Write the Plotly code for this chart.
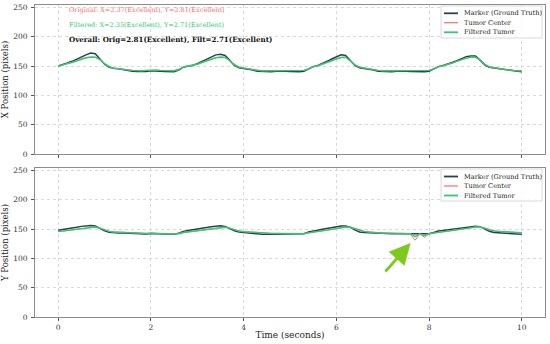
import plotly.graph_objects as go
from plotly.subplots import make_subplots

# ---------------- data ----------------
time_s = [round(i * 0.1, 1) for i in range(101)]

marker_x = [150, 152, 155, 158, 162, 166, 169, 172, 171, 162,
            153, 148, 146, 145.5, 144, 142, 141, 140.5, 140, 140.5,
            142, 142, 141, 140.5, 140, 140, 143, 148, 150, 151,
            154, 158, 162, 166, 169, 170, 168, 160, 151, 147,
            146, 145, 143, 141, 140.5, 140, 140, 141, 141.5, 141,
            140.5, 140, 140, 141, 145, 149, 151, 154, 158, 162,
            166, 169, 168, 159, 151, 147, 146, 145, 143, 141,
            140.5, 140, 140, 141, 141.5, 141, 140.5, 140, 140, 140,
            141, 145, 149, 151, 153, 156, 159, 163, 166, 167,
            167, 160, 152, 148, 147, 146, 145, 143, 142, 141,
            140]

filtered_x = [150, 151.5, 154, 156, 159, 162, 164, 165, 165, 161,
              154, 149, 146, 145.5, 145, 143.5, 142.5, 142, 142, 142.5,
              143, 143, 142.5, 142, 142, 142, 144, 148, 150, 151,
              153, 156, 159, 162, 164, 165, 164.5, 159, 152, 148,
              146.5, 145.5, 144, 142.5, 142, 142, 142, 142.5, 143, 142.5,
              142, 142, 142, 142.5, 145, 148.5, 150.5, 153, 156, 159,
              162, 164.5, 165, 159, 152, 148, 146.5, 145.5, 144, 142.5,
              142, 142, 142, 142.5, 143, 142.5, 142, 142, 142, 142,
              142.5, 145, 148.5, 150.5, 152.5, 155, 158, 161, 163.5, 165,
              165, 160, 153, 148.5, 147, 146, 145, 143.5, 142.5, 142,
              141.5]

tumor_x = [150, 151.5, 154.5, 156.5, 159, 162.5, 164, 165.5, 165, 161,
           154, 149, 146, 145.5, 145, 143.5, 142.5, 142, 142, 142.5,
           143, 143, 142.5, 142, 142, 142, 144, 148, 150, 151,
           153, 156, 159.5, 162, 164, 165.5, 164.5, 159, 152, 148,
           146.5, 145.5, 144, 142.5, 142, 142, 142, 142.5, 143, 142.5,
           142, 142, 142, 142.5, 145, 148.5, 150.5, 153, 156, 159,
           162, 164.5, 165, 159, 152, 148, 146.5, 145.5, 144, 142.5,
           142, 142, 142, 142.5, 143, 142.5, 142, 142, 142, 142,
           142.5, 145, 148.5, 150.5, 152.5, 155, 158, 161, 163.5, 165,
           165, 160, 153, 148.5, 147, 146, 145, 143.5, 142.5, 142,
           141.5]

marker_y = [148, 149, 150, 151.5, 153, 154.5, 155.5, 156, 155, 151,
            147, 144.5, 143.5, 143, 143, 142.5, 142, 141.5, 141, 141.5,
            142.5, 142.5, 142, 141.5, 141, 141, 143, 146, 147.5, 148.5,
            149.5, 151, 152.5, 154, 155, 155.5, 154.5, 151, 147, 145,
            144, 143, 142, 141.5, 141, 141, 141, 141.5, 142, 142,
            141.5, 141, 141, 142, 145, 147, 148, 149.5, 151, 152.5,
            154, 155, 155, 153, 148.5, 145, 144, 143.5, 143, 142.5,
            142, 142, 142, 142, 142, 142, 142, 142, 141.5, 141.5,
            142, 144, 146.5, 147.5, 148.5, 149.5, 150.5, 152, 153, 154,
            154.5, 154, 150, 146, 144, 143.5, 143, 142.5, 142, 141.5,
            141]

filtered_y = [145.5, 146.5, 147.5, 148.5, 149.5, 150.5, 152, 153, 153.5, 151.5,
              148.5, 146, 145, 144.5, 144, 143.5, 143, 142.5, 142.5, 142.5,
              143, 143, 142.5, 142, 141.5, 141.5, 142, 144, 145, 146,
              147, 148, 149.5, 150.5, 152, 153, 153, 151.5, 148.5, 146.5,
              145.5, 145, 144, 143, 142.5, 142.5, 142.5, 142.5, 142.5, 142.5,
              142, 142, 142, 142, 143.5, 145, 146, 147, 148, 149.5,
              150.5, 152, 153.5, 153, 150.5, 147.5, 146, 145, 144, 143.5,
              143, 143, 143, 143, 143, 142.5, 142, 137, 142, 139,
              142, 143, 144, 145, 146, 147, 148, 149.5, 150.5, 152,
              153.5, 153.5, 151.5, 148.5, 146.5, 146, 145.5, 145, 144.5, 144,
              143.5]

tumor_y = [145.5, 146.5, 147.5, 148.5, 149.5, 150.5, 152, 153, 153.5, 151.5,
           148.5, 146, 145, 144.5, 144, 143.5, 143, 142.5, 142.5, 142.5,
           143, 143, 142.5, 142, 141.5, 141.5, 142, 144, 145, 146,
           147, 148, 149.5, 150.5, 152, 153, 153, 151.5, 148.5, 146.5,
           145.5, 145, 144, 143, 142.5, 142.5, 142.5, 142.5, 142.5, 142.5,
           142, 142, 142, 142, 143.5, 145, 146, 147, 148, 149.5,
           150.5, 152, 153.5, 153, 150.5, 147.5, 146, 145, 144, 143.5,
           143, 143, 143, 143, 143, 142.5, 140.5, 131, 141.5, 136,
           142, 143, 144, 145, 146, 147, 148, 149.5, 150.5, 152,
           153.5, 153.5, 151.5, 148.5, 146.5, 146, 145.5, 145, 144.5, 144,
           143.5]

series_names = ["Marker (Ground Truth)", "Tumor Center", "Filtered Tumor"]
stats_lines = ["Original: X=2.37(Excellent), Y=2.81(Excellent)",
               "Filtered: X=2.35(Excellent), Y=2.71(Excellent)",
               "<b>Overall: Orig=2.81(Excellent), Filt=2.71(Excellent)</b>"]
x_ticks = [0, 2, 4, 6, 8, 10]
y_ticks = [0, 50, 100, 150, 200, 250]

# arrow pointing to the outlier (data coordinates)
arrow_head = (7.6, 126)
arrow_tail = (7.03, 75)

# ---------------- style ----------------
C_MARK = "#2c3e50"
C_TUM = "#ff6b6b"
C_FILT = "#2ecc71"
FONT = "DejaVu Serif"

W_TOT, H_TOT = 550, 344
L, R, T, B = 35, 5, 5, 27
PW, PH = W_TOT - L - R, H_TOT - T - B


def px(x):
    return (x - L) / PW


def py(y):
    return 1 - (y - T) / PH


fig = make_subplots(rows=2, cols=1, shared_xaxes=True)

for row, (mk, tu, fi) in enumerate([(marker_x, tumor_x, filtered_x),
                                     (marker_y, tumor_y, filtered_y)], start=1):
    fig.add_trace(go.Scatter(x=time_s, y=mk, mode="lines", name=series_names[0],
                             line=dict(color=C_MARK, width=1.5), showlegend=False), row=row, col=1)
    fig.add_trace(go.Scatter(x=time_s, y=tu, mode="lines", name=series_names[1],
                             line=dict(color=C_TUM, width=1.0), showlegend=False), row=row, col=1)
    fig.add_trace(go.Scatter(x=time_s, y=fi, mode="lines", name=series_names[2],
                             line=dict(color=C_FILT, width=1.4), showlegend=False), row=row, col=1)

axis_common = dict(showline=True, linecolor="#8c8c8c", linewidth=1, mirror=True,
                   showgrid=True, gridcolor="#d9d9d9", griddash="dot", gridwidth=0.8,
                   ticks="outside", ticklen=3, tickcolor="#555", zeroline=False,
                   automargin=False,
                   tickfont=dict(family=FONT, size=7.5, color="#333"))

fig.update_xaxes(range=[-0.5, 10.5], tickvals=x_ticks, **axis_common)
fig.update_yaxes(range=[0, 254], tickvals=y_ticks, ticklabelstandoff=2, **axis_common)
fig.update_xaxes(showticklabels=False, row=1, col=1)
fig.update_xaxes(title=dict(text="Time (seconds)", font=dict(family=FONT, size=9, color="#222"),
                            standoff=0), row=2, col=1)
fig.update_yaxes(title=dict(text="X Position (pixels)", font=dict(family=FONT, size=8.5, color="#222"),
                            standoff=3), row=1, col=1)
fig.update_yaxes(title=dict(text="Y Position (pixels)", font=dict(family=FONT, size=8.5, color="#222"),
                            standoff=3), row=2, col=1)

top_y0, top_y1 = 5, 154
bot_y0, bot_y1 = 168, 317
fig.update_layout(
    yaxis=dict(domain=[py(top_y1), py(top_y0)]),
    yaxis2=dict(domain=[py(bot_y1), py(bot_y0)]),
    xaxis=dict(domain=[0, 1]), xaxis2=dict(domain=[0, 1]),
)

shapes = []
annotations = []

# custom compact legends (matplotlib style)
colors = [C_MARK, C_TUM, C_FILT]
widths = [1.8, 1.2, 1.8]
for box_top, box_bot, rows_y in [(6, 38, [13.3, 22.7, 32.3]), (169, 201, [176.5, 186, 195.5])]:
    shapes.append(dict(type="rect", xref="paper", yref="paper",
                       x0=px(441), x1=px(542), y0=py(box_bot), y1=py(box_top),
                       line=dict(color="#d0d0d0", width=0.8), fillcolor="rgba(255,255,255,0.85)",
                       layer="above"))
    for name, col, wd, ry in zip(series_names, colors, widths, rows_y):
        shapes.append(dict(type="line", xref="paper", yref="paper",
                           x0=px(444), x1=px(458), y0=py(ry), y1=py(ry),
                           line=dict(color=col, width=wd), layer="above"))
        annotations.append(dict(xref="paper", yref="paper", x=px(462), y=py(ry),
                                text=name, showarrow=False, xanchor="left", yanchor="middle",
                                font=dict(family=FONT, size=6.6, color="#222")))

# statistics text
for txt, col, ty, sz in zip(stats_lines, [C_TUM, C_FILT, "#111"], [10.3, 25, 39.5], [6.5, 6.5, 7.1]):
    annotations.append(dict(xref="paper", yref="paper", x=px(67), y=py(ty), text=txt,
                            showarrow=False, xanchor="left", yanchor="middle",
                            font=dict(family=FONT, size=sz, color=col)))

# arrow
annotations.append(dict(xref="x2", yref="y2", x=arrow_head[0], y=arrow_head[1],
                        axref="x2", ayref="y2", ax=arrow_tail[0], ay=arrow_tail[1],
                        showarrow=True, arrowhead=2, arrowsize=1.5, arrowwidth=2.8,
                        arrowcolor="#7dc91e", text=""))

fig.update_layout(width=W_TOT, height=H_TOT, margin=dict(l=L, r=R, t=T, b=B),
                  paper_bgcolor="white", plot_bgcolor="white",
                  shapes=shapes, annotations=annotations, showlegend=False,
                  font=dict(family=FONT))

fig.write_html("out.html", config={"displayModeBar": False},
               post_script="document.body.style.margin='0';")
